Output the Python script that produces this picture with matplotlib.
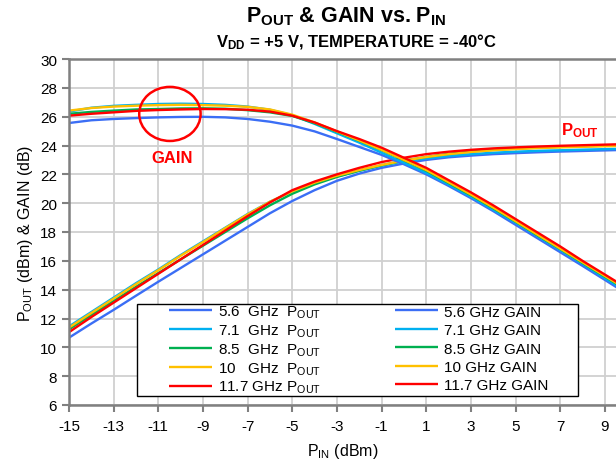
import numpy as np
import matplotlib
matplotlib.use("Agg")
import matplotlib.pyplot as plt
from matplotlib.patches import Ellipse, Rectangle

plt.rcParams['font.family'] = ['Liberation Sans', 'DejaVu Sans']
plt.rcParams['mathtext.fontset'] = 'custom'
plt.rcParams['mathtext.rm'] = 'Liberation Sans'
plt.rcParams['mathtext.it'] = 'Liberation Sans'
plt.rcParams['mathtext.bf'] = 'Liberation Sans:bold'
plt.rcParams['axes.unicode_minus'] = False

# input power sweep (dBm)
pin = [-15, -14, -13, -12, -11, -10, -9, -8, -7, -6, -5, -4, -3, -2, -1,
       0, 1, 2, 3, 4, 5, 6, 7, 8, 9, 10]

freqs = ['5.6', '7.1', '8.5', '10', '11.7']
colors = ['#3B6EF5', '#00B0F0', '#00B050', '#FFC000', '#FF0000']

# Pout (dBm)
pout_56 = [10.67, 11.65, 12.6, 13.58, 14.55, 15.5, 16.45, 17.4, 18.35, 19.3, 20.15, 20.9, 21.55,
           22.05, 22.45, 22.75, 23.0, 23.18, 23.3, 23.4, 23.47, 23.53, 23.58, 23.62, 23.66, 23.7]
pout_71 = [11.45, 12.45, 13.45, 14.45, 15.4, 16.4, 17.35, 18.3, 19.25, 20.1, 20.8, 21.4, 21.85,
           22.25, 22.6, 22.9, 23.1, 23.27, 23.4, 23.5, 23.57, 23.63, 23.67, 23.71, 23.75, 23.78]
pout_85 = [11.25, 12.25, 13.22, 14.2, 15.15, 16.1, 17.05, 18.0, 18.95, 19.85, 20.65, 21.3, 21.82,
           22.25, 22.63, 22.95, 23.2, 23.42, 23.58, 23.7, 23.78, 23.85, 23.9, 23.94, 23.98, 24.0]
pout_10 = [11.37, 12.38, 13.38, 14.38, 15.35, 16.35, 17.3, 18.27, 19.22, 20.1, 20.82, 21.42, 21.9,
           22.3, 22.65, 22.95, 23.2, 23.4, 23.55, 23.67, 23.75, 23.82, 23.87, 23.91, 23.95, 23.98]
pout_117 = [11.05, 12.1, 13.1, 14.1, 15.1, 16.1, 17.1, 18.1, 19.1, 20.05, 20.9, 21.5, 22.0,
            22.45, 22.85, 23.15, 23.4, 23.57, 23.7, 23.8, 23.87, 23.93, 23.98, 24.02, 24.06, 24.1]

# Gain (dB)
gain_56 = [25.56, 25.75, 25.84, 25.9, 25.95, 25.98, 25.99, 25.95, 25.84, 25.65, 25.38, 24.98, 24.45,
           23.9, 23.35, 22.7, 22.0, 21.2, 20.35, 19.45, 18.5, 17.55, 16.6, 15.65, 14.68, 13.7]
gain_71 = [26.35, 26.62, 26.75, 26.82, 26.88, 26.9, 26.88, 26.82, 26.7, 26.48, 26.1, 25.5, 24.85,
           24.2, 23.5, 22.8, 22.1, 21.3, 20.45, 19.55, 18.65, 17.7, 16.75, 15.8, 14.8, 13.85]
gain_85 = [26.2, 26.33, 26.42, 26.5, 26.53, 26.57, 26.58, 26.55, 26.45, 26.3, 26.05, 25.55, 24.95,
           24.33, 23.68, 22.98, 22.25, 21.4, 20.55, 19.65, 18.72, 17.75, 16.82, 15.85, 14.9, 13.95]
gain_10 = [26.42, 26.6, 26.7, 26.76, 26.8, 26.82, 26.8, 26.76, 26.68, 26.5, 26.14, 25.6, 24.98,
           24.35, 23.7, 23.0, 22.3, 21.45, 20.6, 19.7, 18.75, 17.8, 16.85, 15.9, 14.95, 14.0]
gain_117 = [26.07, 26.2, 26.3, 26.4, 26.46, 26.5, 26.53, 26.52, 26.48, 26.35, 26.07, 25.6, 25.0,
            24.45, 23.85, 23.15, 22.45, 21.6, 20.75, 19.85, 18.9, 17.95, 17.0, 16.0, 15.05, 14.1]

pouts = [pout_56, pout_71, pout_85, pout_10, pout_117]
gains = [gain_56, gain_71, gain_85, gain_10, gain_117]
pout_labels = ['5.6  GHz  P$_{\\mathrm{OUT}}$', '7.1  GHz  P$_{\\mathrm{OUT}}$',
               '8.5  GHz  P$_{\\mathrm{OUT}}$', '10   GHz  P$_{\\mathrm{OUT}}$',
               '11.7 GHz P$_{\\mathrm{OUT}}$']
gain_labels = ['5.6 GHz GAIN', '7.1 GHz GAIN', '8.5 GHz GAIN', '10 GHz GAIN', '11.7 GHz GAIN']

fig = plt.figure(figsize=(6.16, 4.64), dpi=100)
ax = fig.add_axes([69/616, 58/464, 547/616, 346/464])

pout_lines = []
gain_lines = []
for i in range(5):
    l, = ax.plot(pin, pouts[i], color=colors[i], lw=1.7, solid_capstyle='butt')
    pout_lines.append(l)
for i in range(5):
    l, = ax.plot(pin, gains[i], color=colors[i], lw=1.7, solid_capstyle='butt')
    gain_lines.append(l)

ax.set_xlim(-15, 9.5)
ax.set_ylim(6, 30)
ax.set_xticks(np.arange(-15, 10, 2))
ax.set_yticks(np.arange(6, 31, 2))
ax.grid(True, color='#D0D0D0', lw=1.3)
ax.set_axisbelow(True)
for s in ['left', 'top', 'bottom']:
    ax.spines[s].set_color('#808080')
    ax.spines[s].set_linewidth(1.8)
ax.spines['right'].set_visible(False)
ax.tick_params(axis='both', colors='#808080', labelcolor='black', labelsize=11, length=5, width=1.5)
ax.tick_params(axis='x', pad=5)

ax.set_xlabel('P$_{\\mathrm{IN}}$ (dBm)', fontsize=11.5, labelpad=6)
ax.set_ylabel('P$_{\\mathrm{OUT}}$ (dBm) & GAIN (dB)', fontsize=11.5, labelpad=4)

fig.text(346/616, 1 - 17/464, 'P$_{\\mathbf{OUT}}$ & GAIN vs. P$_{\\mathbf{IN}}$', ha='center', va='center',
         fontsize=15.5, fontweight='bold')
fig.text(356/616, 1 - 42/464, 'V$_{\\mathbf{DD}}$ = +5 V, TEMPERATURE = -40°C', ha='center', va='center',
         fontsize=12, fontweight='bold')

ax.add_patch(Ellipse((-10.48, 26.19), 2.75, 3.75, fill=False, ec='#FF0000', lw=1.8, zorder=5))
ax.text(-10.4, 23.2, 'GAIN', color='#FF0000', fontsize=12, fontweight='bold', ha='center', va='center')
ax.text(7.9, 25.1, 'P$_{\\mathbf{OUT}}$', color='#FF0000', fontsize=12, fontweight='bold',
        ha='center', va='center')

# legend box drawn separately, one legend per column so the row pitch matches
ax.add_patch(Rectangle((0.1243, 0.026), 0.8062, 0.266, transform=ax.transAxes, facecolor='white',
                       edgecolor='black', lw=1.0, zorder=6))
leg1 = ax.legend(pout_lines, pout_labels, loc='upper left', bbox_to_anchor=(0.1828, 0.293),
                 borderaxespad=0, fontsize=11, frameon=False, handlelength=2.8, handletextpad=0.4,
                 labelspacing=0.16, borderpad=0)
leg1.set_zorder(7)
ax.add_artist(leg1)
leg2 = ax.legend(gain_lines, gain_labels, loc='upper left', bbox_to_anchor=(0.596, 0.290),
                 borderaxespad=0, fontsize=11, frameon=False, handlelength=2.8, handletextpad=0.4,
                 labelspacing=0.29, borderpad=0)
leg2.set_zorder(7)

fig.savefig('out.png', dpi=100)
